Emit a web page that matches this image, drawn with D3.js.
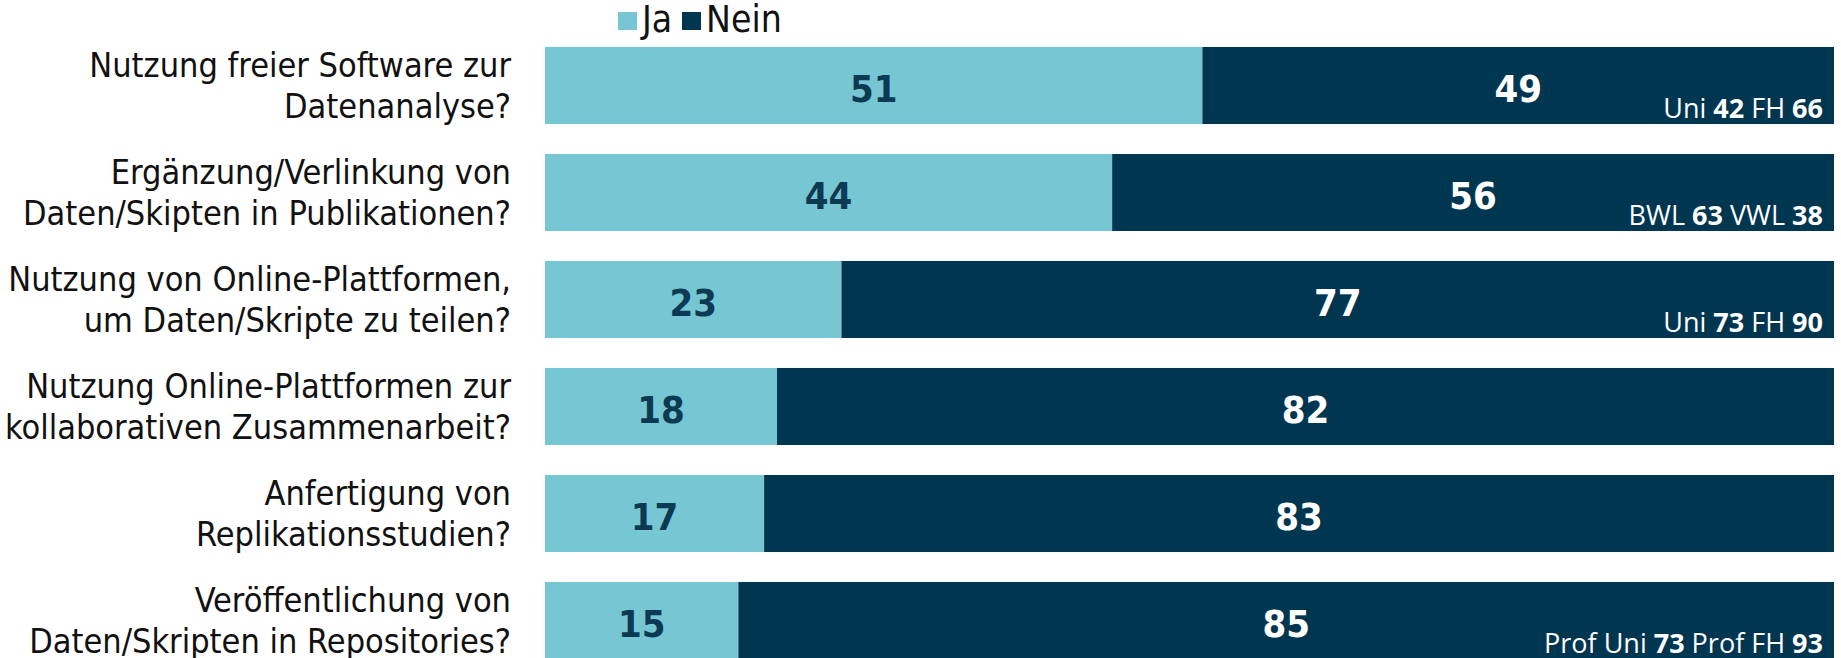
<!DOCTYPE html>
<html>
<head>
<meta charset="utf-8">
<script src="https://cdn.jsdelivr.net/npm/d3@7"></script>
<style>
  body { margin: 0; background: #fff; }
  svg { display: block; }
</style>
</head>
<body>
<div id="chart-area"></div>
<script>
// Data
var categories = [
    "Nutzung freier Software zur\nDatenanalyse?",
    "Ergänzung/Verlinkung von\nDaten/Skipten in Publikationen?",
    "Nutzung von Online-Plattformen,\num Daten/Skripte zu teilen?",
    "Nutzung Online-Plattformen zur\nkollaborativen Zusammenarbeit?",
    "Anfertigung von\nReplikationsstudien?",
    "Veröffentlichung von\nDaten/Skripten in Repositories?"
];
var jaValues   = [51, 44, 23, 18, 17, 15];
var neinValues = [49, 56, 77, 82, 83, 85];
var seriesNames = ["Ja", "Nein"];
// side notes: [label, number] pairs per row
var notes = [
    [["Uni", 42], ["FH", 66]],
    [["BWL", 63], ["VWL", 38]],
    [["Uni", 73], ["FH", 90]],
    [],
    [],
    [["Prof Uni", 73], ["Prof FH", 93]]
];

var width = 1841, height = 658;
var colors = { Ja: "#76c6d4", Nein: "#013651" };
var labelFont = "'DejaVu Sans Condensed', 'DejaVu Sans', sans-serif";

var svg = d3.select("#chart-area")
    .append("svg")
    .attr("width", width)
    .attr("height", height);

// scales
var xScale = d3.scaleLinear()
    .domain([0, 100])
    .range([545, 1834]);

var yScale = d3.scaleBand()
    .domain(categories)
    .range([32, 674])
    .paddingInner(0.28)
    .paddingOuter(0.14);

var rows = categories.map(function(c, i) {
    return { cat: c, ja: jaValues[i], nein: neinValues[i], note: notes[i] };
});

// bars
var g = svg.selectAll(".row")
    .data(rows)
    .enter()
    .append("g")
    .attr("class", "row");

g.append("rect")
    .attr("x", xScale(0))
    .attr("y", function(d) { return yScale(d.cat); })
    .attr("width", function(d) { return xScale(d.ja) - xScale(0); })
    .attr("height", yScale.bandwidth())
    .attr("fill", colors.Ja);

g.append("rect")
    .attr("x", function(d) { return xScale(d.ja); })
    .attr("y", function(d) { return yScale(d.cat); })
    .attr("width", function(d) { return xScale(d.ja + d.nein) - xScale(d.ja); })
    .attr("height", yScale.bandwidth())
    .attr("fill", colors.Nein);

// value labels
g.append("text")
    .attr("x", function(d) { return (xScale(0) + xScale(d.ja)) / 2; })
    .attr("y", function(d) { return yScale(d.cat) + yScale.bandwidth() / 2 + 16; })
    .attr("text-anchor", "middle")
    .style("font-family", labelFont)
    .style("font-weight", "bold")
    .style("font-size", "38px")
    .attr("fill", "#0b3a52")
    .text(function(d) { return d.ja; });

g.append("text")
    .attr("x", function(d) { return (xScale(d.ja) + xScale(d.ja + d.nein)) / 2; })
    .attr("y", function(d) { return yScale(d.cat) + yScale.bandwidth() / 2 + 16; })
    .attr("text-anchor", "middle")
    .style("font-family", labelFont)
    .style("font-weight", "bold")
    .style("font-size", "38px")
    .attr("fill", "#ffffff")
    .text(function(d) { return d.nein; });

// side notes
g.filter(function(d) { return d.note.length > 0; })
    .append("text")
    .attr("x", xScale(100) - 11)
    .attr("y", function(d) { return yScale(d.cat) + yScale.bandwidth() - 6; })
    .attr("text-anchor", "end")
    .style("font-family", "'Open Sans', sans-serif")
    .style("font-size", "27px")
    .attr("fill", "#ffffff")
    .each(function(d) {
        var t = d3.select(this);
        d.note.forEach(function(n, k) {
            t.append("tspan").text((k > 0 ? " " : "") + n[0] + " ");
            t.append("tspan").style("font-weight", "bold").text(n[1]);
        });
    });

// category labels
g.append("text")
    .attr("text-anchor", "end")
    .style("font-family", labelFont)
    .style("font-size", "34px")
    .attr("fill", "#111")
    .each(function(d) {
        var lines = d.cat.split("\n");
        var t = d3.select(this);
        var mid = yScale(d.cat) + yScale.bandwidth() / 2;
        lines.forEach(function(line, k) {
            t.append("tspan")
                .attr("x", 511)
                .attr("y", mid + 12 + (k - (lines.length - 1) / 2) * 41)
                .text(line);
        });
    });

// legend
var legendX = [618, 682];
var legend = svg.selectAll(".legend")
    .data(seriesNames)
    .enter()
    .append("g")
    .attr("class", "legend");

legend.append("rect")
    .attr("x", function(d, i) { return legendX[i]; })
    .attr("y", 12)
    .attr("width", 19)
    .attr("height", 18)
    .attr("fill", function(d) { return colors[d]; });

legend.append("text")
    .attr("x", function(d, i) { return legendX[i] + 24; })
    .attr("y", 32)
    .style("font-family", labelFont)
    .style("font-size", "37px")
    .attr("fill", "#111")
    .text(function(d) { return d; });
</script>
</body>
</html>
